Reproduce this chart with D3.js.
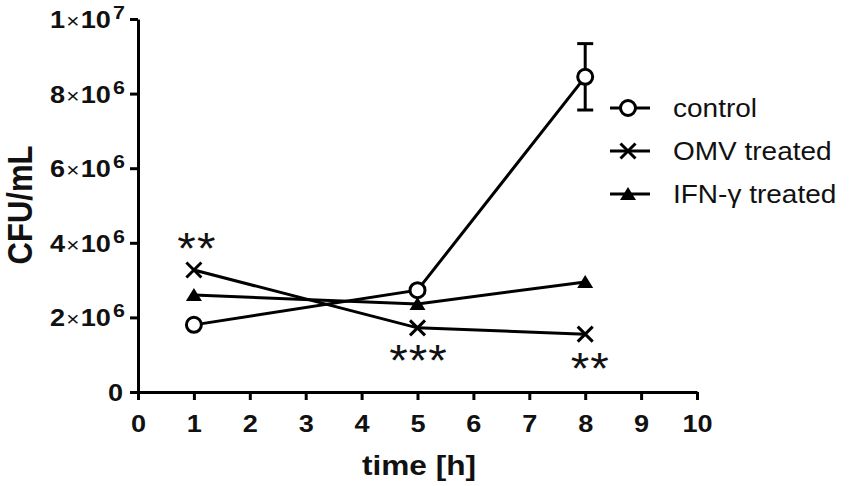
<!DOCTYPE html>
<head>
  <meta charset="utf-8">
  <script src="https://d3js.org/d3.v7.min.js"></script>
  <style>
    body { margin: 0; background: #fff; }
    svg { font-family: "Liberation Sans", Arial, sans-serif; }
  </style>
</head>
<body>
  <svg width="851" height="486"></svg>
  <script>
    // data
    const times = [1, 5, 8];
    const control = [1.80e6, 2.73e6, 8.45e6];
    const controlErr = [0, 0, 0.89e6];
    const omv = [3.27e6, 1.72e6, 1.55e6];
    const ifn = [2.60e6, 2.36e6, 2.95e6];
    const stars = ['**', '***', '**'];
    const xTicks = [0, 1, 2, 3, 4, 5, 6, 7, 8, 9, 10];
    const yTicks = [0, 2e6, 4e6, 6e6, 8e6, 1e7];
    const legendNames = ['control', 'OMV treated', 'IFN-\u03b3 treated'];

    const svg = d3.select('svg');
    const x = d3.scaleLinear().domain([0, 10]).range([138, 697]);
    const y = d3.scaleLinear().domain([0, 1e7]).range([392, 19]);
    const sx = 1.13; // the original is a bit stretched sideways

    // axes
    const xAxis = svg.append('g').attr('transform', 'translate(0,392)')
      .call(d3.axisBottom(x).tickValues(xTicks).tickSize(8).tickSizeOuter(0).tickPadding(15));
    const yAxis = svg.append('g').attr('transform', 'translate(138,0)')
      .call(d3.axisLeft(y).tickValues(yTicks).tickSize(8).tickSizeOuter(0).tickFormat(''));
    [xAxis, yAxis].forEach(a => {
      a.select('.domain').attr('stroke', '#000').attr('stroke-width', 3);
      a.selectAll('.tick line').attr('stroke', '#000').attr('stroke-width', 3);
    });
    xAxis.selectAll('.tick text')
      .attr('font-size', 24).attr('font-weight', 'bold').attr('fill', '#111')
      .attr('font-family', '"Liberation Sans", Arial, sans-serif')
      .attr('transform', `scale(${sx},1)`);

    // y tick labels in a×10^b form
    yTicks.forEach(v => {
      const t = svg.append('text')
        .attr('transform', `translate(${v === 0 ? 123 : 125},${y(v) + 9}) scale(${sx},1)`)
        .attr('text-anchor', 'end')
        .attr('font-size', 24).attr('font-weight', 'bold').attr('fill', '#111');
      if (v === 0) { t.text('0'); return; }
      const e = Math.floor(Math.log10(v));
      const m = v / Math.pow(10, e);
      t.append('tspan').text(m);
      t.append('tspan').attr('font-size', 20).attr('font-weight', 'normal').attr('dx', 1).text('\u00d7');
      t.append('tspan').attr('dx', 1).text('10');
      t.append('tspan').attr('font-size', 19).attr('dx', 2).attr('dy', -9).text(e);
    });

    // axis titles
    svg.append('text')
      .attr('transform', `translate(32,205) rotate(-90) scale(1,${sx})`)
      .attr('text-anchor', 'middle')
      .attr('font-size', 31).attr('font-weight', 'bold').attr('fill', '#111')
      .text('CFU/mL');
    svg.append('text')
      .attr('transform', `translate(419,475) scale(${sx},1)`)
      .attr('text-anchor', 'middle')
      .attr('font-size', 28).attr('font-weight', 'bold').attr('fill', '#111')
      .text('time [h]');

    const line = d3.line().x(d => x(d[0])).y(d => y(d[1]));
    const series = [control, omv, ifn];
    series.forEach(s => {
      svg.append('path')
        .datum(times.map((t, i) => [t, s[i]]))
        .attr('d', line).attr('fill', 'none')
        .attr('stroke', '#000').attr('stroke-width', 3);
    });

    // error bars (control)
    times.forEach((t, i) => {
      if (!controlErr[i]) return;
      const g = svg.append('g').attr('stroke', '#000').attr('stroke-width', 3);
      g.append('line').attr('x1', x(t)).attr('x2', x(t))
        .attr('y1', y(control[i] + controlErr[i])).attr('y2', y(control[i] - controlErr[i]));
      [1, -1].forEach(sg => g.append('line')
        .attr('x1', x(t) - 8).attr('x2', x(t) + 8)
        .attr('y1', y(control[i] + sg * controlErr[i])).attr('y2', y(control[i] + sg * controlErr[i])));
    });

    // markers
    function circle(g, cx, cy) {
      g.append('circle').attr('cx', cx).attr('cy', cy).attr('r', 7.5)
        .attr('fill', '#fff').attr('stroke', '#000').attr('stroke-width', 3);
    }
    function cross(g, cx, cy) {
      const r = 7.5;
      g.append('path')
        .attr('d', `M${cx - r},${cy - r}L${cx + r},${cy + r}M${cx - r},${cy + r}L${cx + r},${cy - r}`)
        .attr('stroke', '#000').attr('stroke-width', 3);
    }
    function tri(g, cx, cy) {
      g.append('path')
        .attr('d', `M${cx},${cy - 7}L${cx + 8},${cy + 6}L${cx - 8},${cy + 6}Z`)
        .attr('fill', '#000');
    }
    const markers = [circle, cross, tri];
    series.forEach((s, k) => times.forEach((t, i) => markers[k](svg, x(t), y(s[i]))));

    // significance stars (OMV)
    const starDy = [-6, 48, 50];
    const starDx = [3, 1, 5];
    times.forEach((t, i) => {
      svg.append('text')
        .attr('transform', `translate(${x(t) + starDx[i]},${y(omv[i]) + starDy[i]}) scale(1.08,1)`)
        .attr('text-anchor', 'middle')
        .attr('font-size', 44).attr('fill', '#111')
        .attr('letter-spacing', 1)
        .text(stars[i]);
    });

    // legend
    legendNames.forEach((name, k) => {
      const ly = 108 + k * 43;
      svg.append('line').attr('x1', 610).attr('x2', 650).attr('y1', ly).attr('y2', ly)
        .attr('stroke', '#000').attr('stroke-width', 3);
      markers[k](svg, 628, ly);
      svg.append('text')
        .attr('transform', `translate(673,${ly + 9}) scale(1.12,1)`)
        .attr('font-size', 25).attr('fill', '#111').text(name);
    });
  </script>
</body>
